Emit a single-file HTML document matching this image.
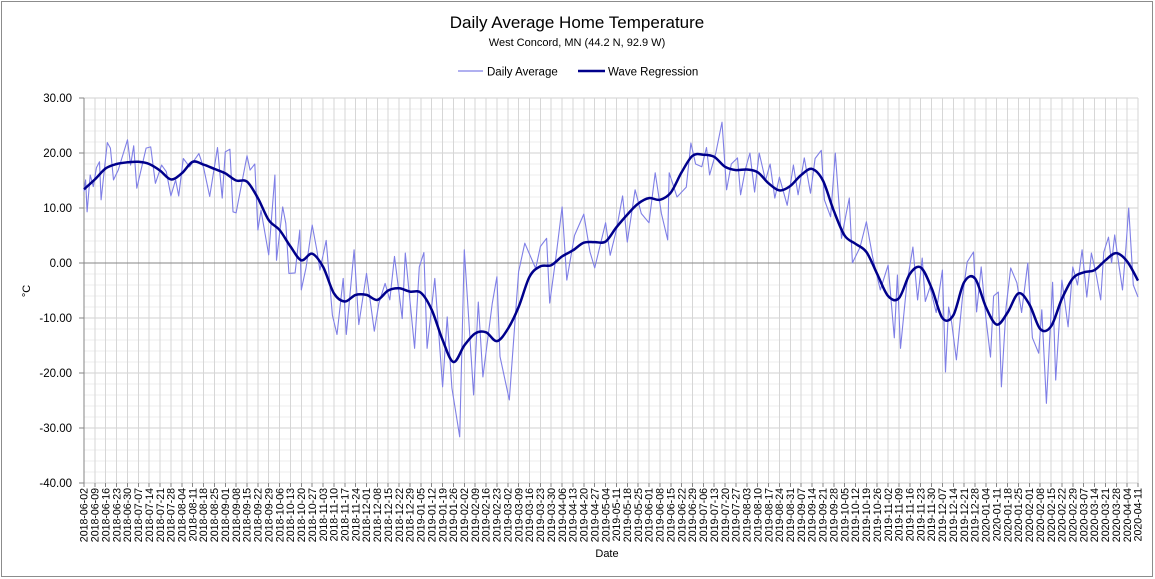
<!DOCTYPE html>
<html><head><meta charset="utf-8"><style>
body{margin:0;background:#fff;}
svg{display:block;font-family:"Liberation Sans",sans-serif;}
</style></head><body>
<svg id="chart" width="1155" height="579" xmlns="http://www.w3.org/2000/svg">
<rect x="1.5" y="1.5" width="1151" height="575" fill="#fff" stroke="#8c8c8c"/>
<text x="577" y="28" text-anchor="middle" font-size="17" fill="#000">Daily Average Home Temperature</text>
<text x="577" y="46" text-anchor="middle" font-size="11" fill="#000">West Concord, MN (44.2 N, 92.9 W)</text>
<g>
<g><line x1="458" y1="71" x2="483" y2="71" stroke="#8080e8" stroke-width="1.2"/><text x="487" y="75.5" font-size="11.5">Daily Average</text></g>
<g><line x1="578" y1="71" x2="605" y2="71" stroke="#00008b" stroke-width="2.5"/><text x="608" y="75.5" font-size="11.5">Wave Regression</text></g>
</g>
<g id="grid"></g>
<g id="yaxis"></g>
<g id="xaxis"></g>
<g id="series"></g>
<text transform="translate(30,291) rotate(-90)" text-anchor="middle" font-size="11">°C</text>
<text x="607" y="557" text-anchor="middle" font-size="11">Date</text>
</svg>
<script>
const dailyDays=[0,1,2,4,6,8,10,11,15,17,19,22,28,30,32,34,40,43,46,50,53,56,59,61,64,68,74,77,81,86,89,91,94,96,98,105,107,110,112,114,119,123,124,128,130,132,136,139,140,143,147,150,152,156,160,163,167,169,174,177,182,187,190,194,197,200,205,207,213,216,219,221,226,231,234,237,242,245,251,254,257,263,266,268,274,280,284,291,294,298,300,304,308,311,316,322,326,329,336,339,343,347,350,355,359,364,368,372,376,377,382,388,391,394,398,401,403,407,411,414,417,421,423,426,429,432,435,439,442,445,448,453,457,460,464,468,471,475,477,481,484,488,491,493,495,500,504,508,513,518,522,524,526,530,534,537,540,542,545,549,553,555,557,559,562,566,569,573,575,578,581,584,586,589,591,594,597,601,604,608,611,615,617,620,624,626,630,634,637,640,643,646,649,652,655,657,660,662,664,667,669,671,673,676,679];
const dailyValues=[13,15.1,9.3,16,13.9,17.3,18.4,11.5,21.9,20.9,15.1,16.9,22.4,17.8,21.3,13.6,20.9,21.1,14.5,17.8,16.6,12.2,15.1,12.2,19,17.5,19.9,17.4,12.1,21,11.8,20.2,20.7,9.3,9.1,19.5,16.9,18,6,9.6,1.5,16,0.5,10.2,7.2,-1.9,-1.8,6,-4.9,-0.9,6.9,2.4,-1.3,4.1,-9.5,-13,-2.8,-13,2.4,-11.2,-1.9,-12.4,-7.3,-3.7,-6.7,1.2,-10.1,1.8,-15.5,-0.7,1.9,-15.5,-2.8,-22.5,-9.8,-22.7,-31.6,2.4,-24,-7.1,-20.7,-7.3,-2.5,-17,-24.9,-1.6,3.6,-1,3,4.5,-7.3,1,10.2,-3.1,5,8.9,2,-0.9,7.3,1.4,6,12.2,3.8,13.3,9,7.3,16.4,9,4.2,16.4,12,13.8,21.8,18,17.5,21,16,20,25.6,13.3,18,19.1,12.4,17,20,12.9,20,15,18,11.8,15.6,10.5,17.8,12.4,19.1,12.7,19,20.5,11.5,8.4,20,4.5,9,11.8,0,2.9,7.5,1.1,-4.9,-0.4,-13.6,-2.2,-15.5,-4,2.9,-6.7,0.9,-7,-4.4,-9,-1.3,-19.8,-8,-10.9,-17.6,-6,0.2,2,-8.9,-0.7,-10,-17.1,-6,-5.3,-22.5,-8,-0.9,-3.6,-9,0,-13.6,-16.4,-8.5,-25.5,-3.5,-21.3,-3.1,-11.6,-0.7,-4,2.4,-6.2,1.8,-2,-6.7,2,4.7,0,5.1,-1,-4.9,2,10,-4,-6.2];
const regressionWeekly=[13.4,15.2,17.2,18.0,18.3,18.4,18.0,16.8,15.2,16.3,18.4,17.9,17.1,16.3,15.0,14.8,11.8,7.8,6.0,3.0,0.5,1.7,-0.7,-5.5,-7.0,-5.8,-5.8,-6.7,-5.0,-4.6,-5.2,-5.4,-8.5,-14.0,-18.0,-15.0,-12.8,-12.6,-14.2,-12.0,-8.0,-2.5,-0.6,-0.4,1.2,2.3,3.7,3.8,3.9,6.5,8.8,10.8,11.8,11.5,12.8,16.5,19.5,19.7,19.3,17.5,16.9,17.0,16.5,14.5,13.2,14.0,16.0,17.1,15.0,9.5,5.0,3.5,2.0,-2.0,-6.0,-6.4,-2.0,-0.8,-4.5,-10.0,-9.5,-3.5,-2.8,-8.0,-11.2,-9.0,-5.5,-7.5,-12.0,-11.5,-6.5,-2.8,-1.7,-1.3,0.5,1.8,0.3,-3.2];
const yTicks=[30,20,10,0,-10,-20,-30,-40];
const startDate="2018-06-02";
const weekCount=98;

const NS="http://www.w3.org/2000/svg";
const L=84,R=1138,T=98,B=483,yMax=30,yMin=-40,totalDays=679;
const xDay=d=>L+d*(R-L)/totalDays;
const yVal=v=>T+(yMax-v)*(B-T)/(yMax-yMin);
function mk(tag,attrs,parent){const e=document.createElementNS(NS,tag);for(const k in attrs)e.setAttribute(k,attrs[k]);parent.appendChild(e);return e;}
const grid=document.getElementById('grid'),ya=document.getElementById('yaxis'),xa=document.getElementById('xaxis'),ser=document.getElementById('series');
for(let v=yMin;v<=yMax;v+=2){
  const l=mk('line',{x1:L,x2:R,y1:yVal(v),y2:yVal(v),stroke:v%10===0?'#d0d0d0':'#ececec','stroke-width':1,'shape-rendering':'crispEdges'},grid);
  
  
}
for(let w=0;w<weekCount;w++){
  const x=xDay(w*7);
  const l=mk('line',{x1:x,x2:x,y1:T,y2:B,stroke:'#d6d6d6','stroke-width':1,'shape-rendering':'crispEdges'},grid);
  
  
}
const z=mk('line',{x1:L,x2:R,y1:yVal(0),y2:yVal(0),stroke:'#868686','stroke-width':1,'shape-rendering':'crispEdges'},grid);


const ax=mk('line',{x1:L,x2:L,y1:T,y2:B,stroke:'#868686','stroke-width':1,'shape-rendering':'crispEdges'},ya);


yTicks.forEach(v=>{
  mk('line',{x1:L-5,x2:L,y1:yVal(v),y2:yVal(v),stroke:'#868686','shape-rendering':'crispEdges'},ya);
  const t=mk('text',{x:L-12,y:yVal(v)+4,'text-anchor':'end','font-size':11.5},ya);
  t.textContent=v.toFixed(2);
  
  
});
const sd=new Date(startDate+"T00:00:00Z");
for(let w=0;w<weekCount;w++){
  const d=new Date(sd.getTime()+w*7*86400000);
  const s=d.toISOString().slice(0,10);
  const x=xDay(w*7);
  mk('line',{x1:x,x2:x,y1:B,y2:B+4,stroke:'#868686','shape-rendering':'crispEdges'},xa);
  const t=mk('text',{transform:`translate(${x+3.7},${B+5}) rotate(-90)`,'text-anchor':'end','font-size':10.6},xa);
  t.textContent=s;
  
  
}
let p='';
dailyDays.forEach((d,i)=>{p+=(i?'L':'M')+xDay(d).toFixed(1)+','+yVal(dailyValues[i]).toFixed(1);});
const dl=mk('path',{d:p,fill:'none',stroke:'#7f7fe6','stroke-width':1.1,'stroke-linejoin':'round'},ser);


const pts=regressionWeekly.map((v,i)=>[xDay(Math.min(i*7,totalDays)),yVal(v)]);
let q='M'+pts[0][0]+','+pts[0][1];
for(let i=0;i<pts.length-1;i++){
  const p0=pts[Math.max(0,i-1)],p1=pts[i],p2=pts[i+1],p3=pts[Math.min(pts.length-1,i+2)];
  const c1=[p1[0]+(p2[0]-p0[0])/6,p1[1]+(p2[1]-p0[1])/6],c2=[p2[0]-(p3[0]-p1[0])/6,p2[1]-(p3[1]-p1[1])/6];
  q+=`C${c1[0].toFixed(1)},${c1[1].toFixed(1)} ${c2[0].toFixed(1)},${c2[1].toFixed(1)} ${p2[0].toFixed(1)},${p2[1].toFixed(1)}`;
}
const rl=mk('path',{d:q,fill:'none',stroke:'#00008b','stroke-width':2.5,'stroke-linejoin':'round'},ser);


</script>
</body></html>
